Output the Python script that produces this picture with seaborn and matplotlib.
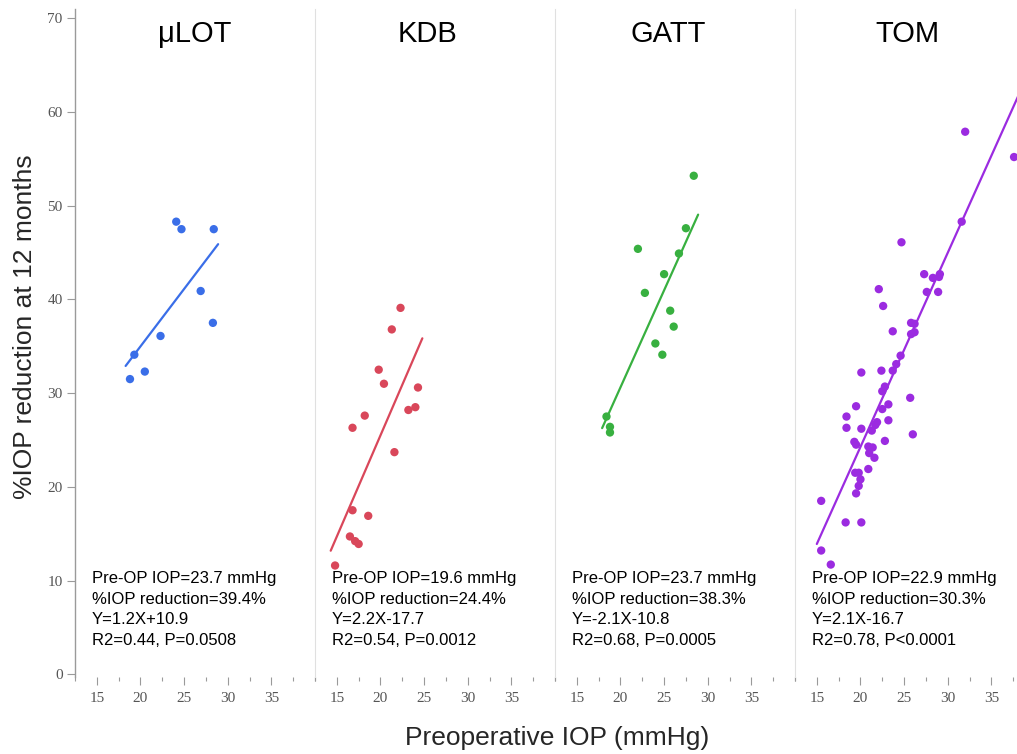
import numpy as np
import pandas as pd
import matplotlib
matplotlib.use("Agg")
import matplotlib.pyplot as plt
import seaborn as sns

# Datos: PIO preoperatoria (x) y % reduccion a 12 meses (y)
groups = ["μLOT", "KDB", "GATT", "TOM"]
colors = ["#3a6ee8", "#d9475a", "#38b040", "#9b2be0"]

ulot_x = [18.8, 19.3, 20.5, 22.3, 24.1, 24.7, 26.9, 28.4, 28.3]
ulot_y = [31.5, 34.1, 32.3, 36.1, 48.3, 47.5, 40.9, 47.5, 37.5]

kdb_x = [22.3, 21.3, 19.8, 20.4, 24.3, 24.0, 23.2, 18.2, 16.8, 21.6, 16.8, 18.6,
         16.5, 17.1, 17.5, 14.8]
kdb_y = [39.1, 36.8, 32.5, 31.0, 30.6, 28.5, 28.2, 27.6, 26.3, 23.7, 17.5, 16.9,
         14.7, 14.2, 13.9, 11.6]

gatt_x = [28.4, 27.5, 22.0, 26.7, 25.0, 22.8, 25.7, 26.1, 24.0, 24.8, 18.4, 18.8, 18.8]
gatt_y = [53.2, 47.6, 45.4, 44.9, 42.7, 40.7, 38.8, 37.1, 35.3, 34.1, 27.5, 26.4, 25.8]

tom_x = [32.0, 37.6, 31.6, 24.7, 27.3, 28.3, 29.0, 29.1, 22.1, 27.6, 28.9, 22.6,
         25.8, 26.2, 23.7, 25.8, 26.2, 24.6, 24.1, 23.7, 22.4, 20.1,
         22.8, 22.5, 25.7, 19.5, 23.2, 22.5, 18.4, 23.2, 21.9, 21.7, 18.4, 20.1,
         21.3, 26.0, 22.8, 19.3, 19.5, 20.9, 21.4, 21.0, 21.6, 20.9, 19.4, 19.8,
         20.0, 19.8, 19.5, 15.5, 18.3, 20.1, 15.5, 16.6]
tom_y = [57.9, 55.2, 48.3, 46.1, 42.7, 42.3, 42.4, 42.7, 41.1, 40.8, 40.8, 39.3,
         37.5, 37.4, 36.6, 36.3, 36.5, 34.0, 33.1, 32.4, 32.4, 32.2,
         30.7, 30.2, 29.5, 28.6, 28.8, 28.3, 27.5, 27.1, 26.9, 26.6, 26.3, 26.2,
         26.0, 25.6, 24.9, 24.8, 24.5, 24.3, 24.2, 23.6, 23.1, 21.9, 21.5, 21.5,
         20.8, 20.1, 19.3, 18.5, 16.2, 16.2, 13.2, 11.7]

stats = [
    "Pre-OP IOP=23.7 mmHg\n%IOP reduction=39.4%\nY=1.2X+10.9\nR2=0.44, P=0.0508",
    "Pre-OP IOP=19.6 mmHg\n%IOP reduction=24.4%\nY=2.2X-17.7\nR2=0.54, P=0.0012",
    "Pre-OP IOP=23.7 mmHg\n%IOP reduction=38.3%\nY=-2.1X-10.8\nR2=0.68, P=0.0005",
    "Pre-OP IOP=22.9 mmHg\n%IOP reduction=30.3%\nY=2.1X-16.7\nR2=0.78, P<0.0001",
]

xs = [ulot_x, kdb_x, gatt_x, tom_x]
ys = [ulot_y, kdb_y, gatt_y, tom_y]

sns.set_style("white")
plt.rcParams["font.family"] = ["Liberation Sans", "DejaVu Sans"]

fig = plt.figure(figsize=(10.17, 7.54), dpi=100)

left0 = 75 / 1017
width = 240 / 1017
bottom = 1 - 677 / 754
height = (677 - 9) / 754
title_x = [0.5, 0.47, 0.47, 0.47]

for i, g in enumerate(groups):
    ax = fig.add_axes([left0 + i * width, bottom, width, height])
    df = pd.DataFrame({"x": xs[i], "y": ys[i]})

    sns.scatterplot(data=df, x="x", y="y", color=colors[i], s=36,
                    edgecolor="none", ax=ax)

    # recta de regresion
    k, b = np.polyfit(df["x"], df["y"], 1)
    lx = np.array([df["x"].min() - 0.5, df["x"].max() + 0.5])
    sns.lineplot(x=lx, y=k * lx + b, color=colors[i], linewidth=1.6, ax=ax)

    ax.set_xlim(12.5, 40)
    ax.set_ylim(-0.3, 71)
    ax.set_xticks([15, 20, 25, 30, 35])
    ax.set_xticks(np.arange(12.5, 40.1, 2.5), minor=True)
    ax.set_xlabel("")
    ax.set_ylabel("")

    for s in ["top", "right", "bottom"]:
        ax.spines[s].set_visible(False)
    ax.spines["left"].set_color("#9a9a9a" if i == 0 else "#e0e0e0")
    ax.spines["left"].set_linewidth(1.0 if i == 0 else 0.8)

    ax.tick_params(axis="x", which="major", bottom=True, direction="out",
                   length=5.5, width=0.8, color="#9a9a9a", pad=5,
                   labelsize=11, labelcolor="#555555")
    ax.tick_params(axis="x", which="minor", bottom=True, direction="out",
                   length=3, width=0.8, color="#9a9a9a")
    for lab in ax.get_xticklabels():
        lab.set_family("Liberation Serif")

    if i == 0:
        ax.set_yticks(np.arange(0, 71, 10))
        ax.tick_params(axis="y", left=True, direction="out", length=6,
                       width=0.8, color="#9a9a9a", pad=3,
                       labelsize=11, labelcolor="#555555")
        for lab in ax.get_yticklabels():
            lab.set_family("Liberation Serif")
    else:
        ax.set_yticks([])

    ax.text(title_x[i], 0.963, g, transform=ax.transAxes, ha="center",
            va="center", fontsize=21, color="black")
    ax.text(0.071, 0.158, stats[i], transform=ax.transAxes, ha="left",
            va="top", fontsize=12, linespacing=1.45, color="black")

fig.text(0.025, 1 - 327 / 754, "%IOP reduction at 12 months", rotation=90,
         ha="center", va="center", fontsize=19)
fig.text(557 / 1017, 1 - 738 / 754, "Preoperative IOP (mmHg)", ha="center",
         va="center", fontsize=19)

fig.savefig("out.png", dpi=100)
